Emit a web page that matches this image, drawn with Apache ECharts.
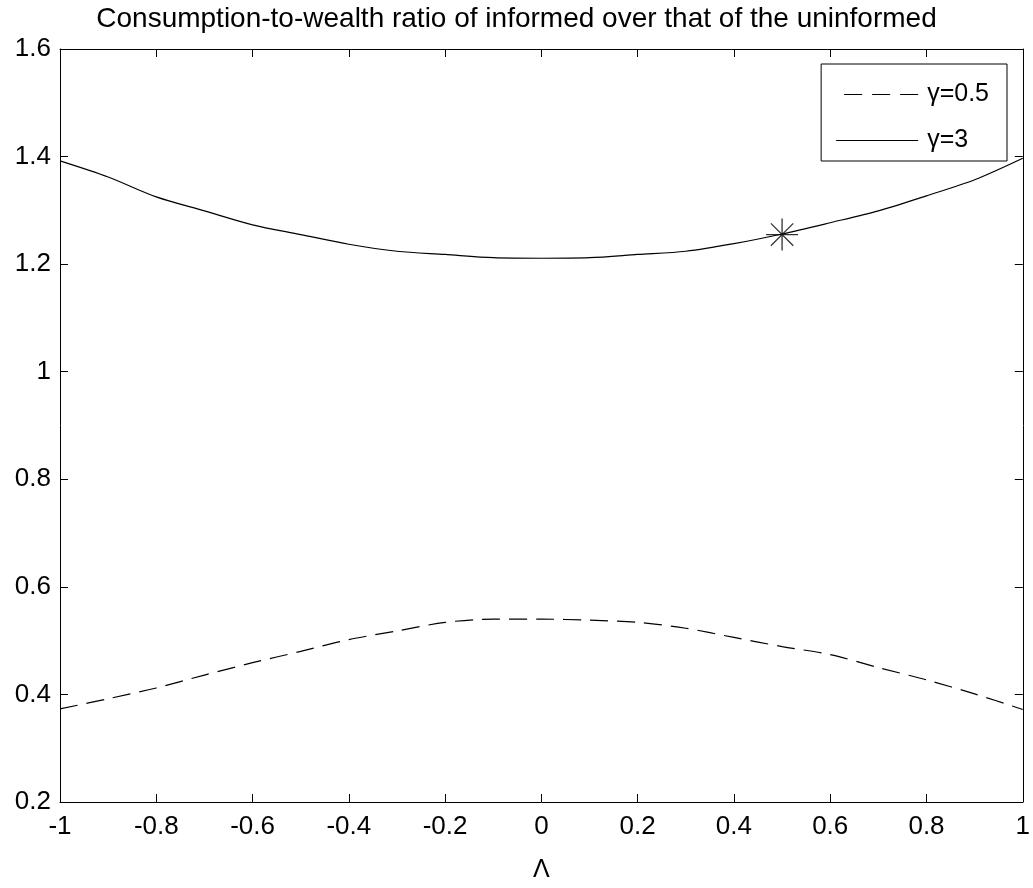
<!DOCTYPE html>
<html>
<head>
<meta charset="utf-8">
<script src="https://cdn.jsdelivr.net/npm/echarts@6/dist/echarts.min.js"></script>
<style>html,body{margin:0;padding:0;background:#fff;}#chart{width:1033px;height:888px;}</style>
</head>
<body>
<div id="chart"></div>
<script>
var xValues = [-1, -0.9, -0.8, -0.7, -0.6, -0.5, -0.4, -0.3, -0.2, -0.1, 0, 0.1, 0.2, 0.3, 0.4, 0.5, 0.6, 0.7, 0.8, 0.9, 1];
var gammaHalf = [0.373, 0.392, 0.412, 0.436, 0.459, 0.480, 0.502, 0.518, 0.534, 0.540, 0.540, 0.538, 0.534, 0.523, 0.506, 0.489, 0.474, 0.450, 0.427, 0.401, 0.372];
var gammaThree = [1.392, 1.362, 1.325, 1.299, 1.273, 1.255, 1.237, 1.224, 1.218, 1.212, 1.211, 1.212, 1.218, 1.224, 1.238, 1.256, 1.277, 1.299, 1.327, 1.357, 1.397];
var markerPoint = [0.5, 1.255];
var seriesNames = ['\u03b3=0.5', '\u03b3=3'];
var titleText = 'Consumption-to-wealth ratio of informed over that of the uninformed';
var xAxisName = '\u039b';

function pairs(xs, ys) { return xs.map(function (x, i) { return [x, ys[i]]; }); }

var FONT = 'Liberation Sans, Arial, sans-serif';
var DASH_ICON = 'path://M0,0 H0.01 V1 H0 Z M8,0 H26 V1 H8 Z M36,0 H54 V1 H36 Z M64,0 H82 V1 H64 Z';
var SOLID_ICON = 'path://M0,0 H82 V1 H0 Z';
var chart = echarts.init(document.getElementById('chart'));
var axisCommon = {
  axisLine: { show: true, onZero: false, lineStyle: { color: '#000', width: 1 } },
  axisTick: { show: true, inside: true, length: 8, lineStyle: { color: '#000' } },
  splitLine: { show: false }
};
chart.setOption({
  animation: false,
  backgroundColor: '#fff',
  title: {
    text: titleText, left: 'center', top: 0,
    textStyle: { fontFamily: FONT, fontSize: 28, fontWeight: 'normal', color: '#000' }
  },
  grid: { left: 60, right: 5, top: 49, bottom: 75, containLabel: false },
  legend: {
    data: [{ name: seriesNames[0], icon: DASH_ICON }, { name: seriesNames[1], icon: SOLID_ICON }],
    orient: 'vertical', right: 26, top: 64,
    itemWidth: 82, itemHeight: 1.3, itemGap: 21,
    padding: [18, 18, 8, 15],
    backgroundColor: '#fff', borderColor: '#000', borderWidth: 1,
    itemStyle: { color: '#000', borderWidth: 0 },
    textStyle: { fontFamily: FONT, fontSize: 25, color: '#000', padding: [0, 0, 0, 4] }
  },
  xAxis: [
    Object.assign({
      type: 'value', min: -1, max: 1, interval: 0.2, position: 'bottom',
      name: xAxisName, nameLocation: 'middle', nameGap: 56,
      nameTextStyle: { fontFamily: FONT, fontSize: 25, color: '#000' },
      axisLabel: { margin: 12, fontFamily: FONT, fontSize: 26, color: '#000' }
    }, axisCommon),
    Object.assign({
      type: 'value', min: -1, max: 1, interval: 0.2, position: 'top',
      axisLabel: { show: false }
    }, axisCommon)
  ],
  yAxis: [
    Object.assign({
      type: 'value', min: 0.2, max: 1.6, interval: 0.2, position: 'left',
      axisLabel: { margin: 9, fontFamily: FONT, fontSize: 26, color: '#000' }
    }, axisCommon),
    Object.assign({
      type: 'value', min: 0.2, max: 1.6, interval: 0.2, position: 'right',
      axisLabel: { show: false }
    }, axisCommon)
  ],
  series: [
    {
      name: seriesNames[0], type: 'line', data: pairs(xValues, gammaHalf),
      symbol: 'none', smooth: 0.3, color: '#000',
      lineStyle: { color: '#000', width: 1.2, type: [18, 9] }
    },
    {
      name: seriesNames[1], type: 'line', data: pairs(xValues, gammaThree),
      symbol: 'none', smooth: 0.3, color: '#000',
      lineStyle: { color: '#000', width: 1.2, type: 'solid' }
    },
    {
      name: 'marker', type: 'scatter', data: [markerPoint],
      symbol: 'path://M10,0 L10,20 M0,10 L20,10 M3,3 L17,17 M3,17 L17,3',
      symbolSize: 32,
      itemStyle: { color: 'none', borderColor: '#000', borderWidth: 1.3 },
      z: 5
    }
  ]
});
</script>
</body>
</html>
